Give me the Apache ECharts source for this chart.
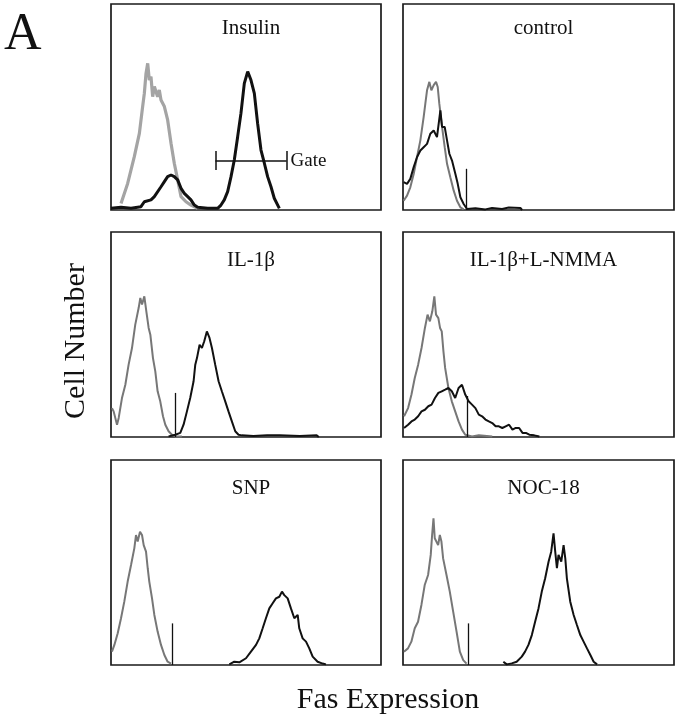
<!DOCTYPE html>
<html>
<head>
<meta charset="utf-8">
<script src="https://cdn.jsdelivr.net/npm/echarts@6/dist/echarts.min.js"></script>
<style>
html,body{margin:0;padding:0;background:#fff;}
#chart{width:680px;height:720px;}
</style>
</head>
<body>
<div id="chart"></div>
<script>
// ---- data (channel 0-256, cell count as % of panel height) ----
const panelTitles = ['Insulin', 'control', 'IL-1β', 'IL-1β+L-NMMA', 'SNP', 'NOC-18'];

const insulinGray = [[9.5,3.2],[15.8,12.9],[22.1,25.9],[26.9,37.2],[30.0,50.2],[31.6,56.6],[33.2,66.3],[34.8,71.2],[36.3,63.1],[37.9,64.7],[39.5,55.0],[41.1,59.9],[44.2,55.0],[45.8,58.3],[47.4,53.4],[50.6,50.2],[53.7,43.7],[56.9,32.4],[60.0,22.7],[63.2,14.6],[66.4,6.5],[71.1,4.0],[75.8,2.4],[82.2,0.8]];
const insulinBlack = [[0,0.8],[9.5,1.3],[19,0.8],[28.4,1.6],[31.6,4.0],[37.9,4.9],[41.1,6.5],[47.4,11.3],[50.6,13.8],[53.7,16.2],[56.9,17.0],[60.0,16.2],[63.2,14.6],[66.4,10.5],[69.5,8.1],[72.7,6.5],[75.8,4.9],[79.0,2.4],[82.2,1.3],[91.6,0.8],[101.1,0.8],[104.3,2.4],[107.4,4.9],[110.6,8.9],[113.8,16.2],[116.9,24.3],[120.1,35.6],[123.2,46.9],[126.4,61.5],[129.6,67.2],[132.7,63.1],[135.9,56.6],[139.0,42.1],[142.2,29.1],[145.4,22.7],[148.5,16.2],[151.7,11.3],[154.8,5.7],[159.6,0.8]];

const controlGray = [[0.6,4.5],[3.8,7.0],[6.9,11.0],[10.1,17.5],[13.2,25.6],[16.4,33.8],[19.5,45.1],[21.1,51.6],[22.7,58.1],[24.9,62.2],[26.8,58.1],[29.0,60.6],[31.2,62.2],[32.8,59.7],[34.3,51.6],[36.9,40.3],[39.4,30.5],[41.6,22.4],[44.7,15.9],[47.9,9.4],[51.0,4.5],[54.2,1.3],[57.3,0.3]];
const controlBlack = [[0.6,13.5],[3.8,12.7],[6.9,15.1],[10.1,20.8],[13.2,25.6],[16.4,28.9],[19.5,30.5],[22.7,32.1],[25.8,37.0],[29.0,38.6],[32.1,35.4],[35.3,48.4],[36.9,40.3],[39.4,40.3],[41.6,33.8],[43.8,27.3],[46.3,24.0],[49.5,17.5],[51.7,12.7],[54.2,6.2],[57.3,2.9],[60.5,0.5],[68.4,0.8],[77.8,0.3],[84.1,1.0],[93.6,0.5],[99.9,1.2],[110.9,1.0],[112.5,0]];

const il1bGray = [[0.9,14.1],[2.5,12.5],[5.7,6.0],[7.3,9.3],[10.4,19.0],[13.6,25.5],[16.7,35.3],[19.9,43.4],[23.0,54.8],[26.2,62.9],[27.8,67.8],[29.4,64.6],[31.6,68.6],[33.5,61.3],[35.7,53.2],[37.3,49.9],[39.8,38.5],[42.0,32.0],[44.2,22.3],[46.7,17.4],[49.3,10.1],[51.5,6.0],[54.6,2.8],[57.8,1.1],[60.9,0.3],[67.2,0.2]];
const il1bBlack = [[54.6,0.3],[60.9,1.1],[65.7,2.0],[68.8,6.0],[72.0,12.5],[75.1,19.0],[78.3,27.2],[79.9,35.3],[81.5,38.5],[84.0,45.0],[86.2,43.4],[88.4,46.7],[90.9,51.5],[93.4,48.3],[95.7,43.4],[98.8,35.3],[102.0,27.2],[105.1,22.3],[108.3,17.4],[111.4,12.5],[114.6,7.6],[117.8,2.8],[120.9,1.1],[124.1,0.8],[135,0.5],[148,0.8],[160,0.8],[179,0.5],[195,0.8],[197,0]];

const nmmaGray = [[1.0,10.1],[4.8,14.1],[8.0,20.7],[11.1,28.8],[14.3,35.3],[17.5,43.4],[20.7,53.2],[23.2,59.7],[25.4,56.4],[27.7,61.3],[29.6,68.6],[31.2,59.7],[33.4,58.0],[35.0,53.2],[36.6,51.5],[38.2,41.8],[39.8,33.7],[42.9,23.9],[46.1,17.4],[49.3,12.5],[52.5,7.6],[55.7,3.6],[58.8,1.1],[65.2,0.3],[71.6,0.8],[84.3,0.2]];
const nmmaBlack = [[1.0,4.4],[4.8,6.0],[8.0,7.6],[11.1,8.5],[14.3,10.1],[17.5,12.5],[20.7,13.3],[23.9,15.0],[27.0,15.8],[30.2,19.0],[33.4,21.5],[36.6,22.3],[39.8,23.1],[42.9,23.9],[46.1,22.3],[49.3,19.0],[52.5,23.9],[55.7,25.5],[58.8,20.7],[62.0,17.4],[65.2,15.8],[68.4,14.1],[71.6,10.9],[74.7,10.1],[77.9,8.5],[81.1,7.6],[84.3,6.8],[87.5,5.2],[90.6,5.2],[93.8,4.4],[97.0,5.2],[100.2,6.0],[103.4,3.6],[106.5,4.4],[109.7,4.4],[112.9,2.0],[116.1,2.0],[119.3,1.1],[124.0,0.8],[128.8,0.2]];

const snpGray = [[0.9,6.5],[3.2,9.8],[6.3,15.4],[9.5,22.8],[12.6,30.9],[15.8,40.7],[19.0,48.8],[22.1,56.9],[23.7,63.4],[25.3,60.2],[27.5,65.0],[29.4,63.4],[31.0,58.5],[33.2,55.3],[34.8,47.2],[36.3,40.7],[38.9,32.5],[41.1,24.4],[44.2,16.3],[47.4,9.8],[50.6,4.9],[53.7,1.6],[56.9,0.7]];
const snpBlack = [[112.2,0.3],[116.9,1.6],[121.7,1.3],[128.0,3.3],[132.7,6.5],[137.5,9.8],[140.6,13.0],[143.8,17.9],[146.9,22.8],[150.1,27.6],[153.3,30.1],[156.4,32.5],[159.6,33.3],[162.1,35.8],[164.3,34.1],[167.5,32.5],[170.6,27.6],[173.8,22.8],[177.0,24.4],[178.5,17.9],[181.7,13.0],[184.9,11.4],[188.0,8.1],[191.2,4.1],[195.9,1.6],[200.7,0.7],[203.8,0.3]];

const nocGray = [[0.9,6.5],[4.7,8.1],[7.9,11.4],[11.1,17.9],[14.2,21.1],[17.4,29.3],[20.5,39.0],[23.7,43.9],[26.2,53.7],[27.5,63.4],[28.8,71.5],[30.0,61.8],[33.2,58.5],[34.8,63.4],[36.3,60.2],[37.9,52.0],[41.1,43.9],[44.2,35.8],[47.4,26.0],[50.6,16.3],[53.7,6.5],[56.9,2.4],[60.0,0.7]];
const nocBlack = [[94.8,1.6],[98.0,0.3],[102.7,0.8],[107.4,1.6],[112.2,4.1],[115.3,6.5],[118.5,9.8],[121.7,14.6],[124.8,21.1],[128.0,27.6],[131.1,35.8],[134.3,42.3],[137.5,50.4],[140.0,55.3],[142.2,64.2],[143.8,55.3],[145.4,47.2],[146.9,53.7],[149.5,50.4],[151.7,58.5],[153.3,52.0],[154.8,42.3],[158.0,30.9],[161.2,24.4],[164.3,19.5],[167.5,14.6],[170.6,11.4],[173.8,8.1],[177.0,4.9],[180.1,1.6],[183.3,0.3]];

const markerChannel = [null, 60, 61, 61, 58.5, 61.5];
const markerHeight  = [null, 20, 21.5, 20, 20.3, 20.3];
const gateRange = [99, 166.5];
const gateLevel = 24;
const gateTick = 4.6;
const gateLabel = 'Gate';

const grayData  = [insulinGray, controlGray, il1bGray, nmmaGray, snpGray, nocGray];
const blackData = [insulinBlack, controlBlack, il1bBlack, nmmaBlack, snpBlack, nocBlack];

// ---- layout ----
const FONT = '"Liberation Serif", "Times New Roman", serif';
const colLeft = [111, 403];
const colWidth = [270, 271];
const rowTop = [4, 232, 460];
const rowHeight = [206, 205, 205];
const titleTop = [13, 245, 473];

const grids = [], xAxes = [], yAxes = [], series = [], titles = [];
for (let i = 0; i < 6; i++) {
  const c = i % 2, r = Math.floor(i / 2);
  grids.push({left: colLeft[c], top: rowTop[r], width: colWidth[c], height: rowHeight[r],
    show: true, borderColor: '#1a1a1a', borderWidth: 1.7, backgroundColor: '#fff', containLabel: false});
  xAxes.push({type: 'value', gridIndex: i, min: 0, max: 256, show: false, splitLine: {show: false}});
  yAxes.push({type: 'value', gridIndex: i, min: 0, max: 100, show: false, splitLine: {show: false}});
  titles.push({text: panelTitles[i], left: colLeft[c] + colWidth[c] / 2, top: titleTop[r], textAlign: 'center',
    textStyle: {fontFamily: FONT, fontSize: 21, fontWeight: 'normal', color: '#111'}});
  const thick = i === 0;
  const gray = {
    type: 'line', xAxisIndex: i, yAxisIndex: i, data: grayData[i], symbol: 'none', smooth: false,
    lineStyle: {color: thick ? '#a4a4a4' : '#777777', width: thick ? 3.2 : 2}, z: 2
  };
  if (markerChannel[i] !== null) {
    gray.markLine = {silent: true, symbol: 'none', animation: false, label: {show: false},
      lineStyle: {color: '#111', width: 1.3, type: 'solid'},
      data: [[{coord: [markerChannel[i], 0]}, {coord: [markerChannel[i], markerHeight[i]]}]]};
  }
  const black = {
    type: 'line', xAxisIndex: i, yAxisIndex: i, data: blackData[i], symbol: 'none', smooth: false,
    lineStyle: {color: '#111', width: thick ? 3 : 2}, z: 3
  };
  if (i === 0) {
    black.markLine = {silent: true, symbol: 'none', animation: false,
      lineStyle: {color: '#111', width: 1.5, type: 'solid'},
      label: {show: false},
      data: [
        [{coord: [gateRange[0], gateLevel]}, {coord: [gateRange[1], gateLevel],
          label: {show: true, position: 'end', formatter: gateLabel, distance: 4,
            fontFamily: FONT, fontSize: 19, color: '#111'}}],
        [{coord: [gateRange[0], gateLevel - gateTick]}, {coord: [gateRange[0], gateLevel + gateTick]}],
        [{coord: [gateRange[1], gateLevel - gateTick]}, {coord: [gateRange[1], gateLevel + gateTick]}]
      ]};
  }
  series.push(gray, black);
}

const chart = echarts.init(document.getElementById('chart'), null, {renderer: 'canvas'});
chart.setOption({
  animation: false,
  backgroundColor: '#fff',
  title: titles,
  grid: grids,
  xAxis: xAxes,
  yAxis: yAxes,
  series: series,
  graphic: [
    {type: 'text', left: 4, top: 9, style: {text: 'A', font: '52px ' + FONT, fill: '#111'}},
    {type: 'text', x: 76, y: 341, rotation: Math.PI / 2,
      style: {text: 'Cell Number', font: '30px ' + FONT, fill: '#111', textAlign: 'center', textVerticalAlign: 'middle'}},
    {type: 'text', x: 388, y: 700,
      style: {text: 'Fas Expression', font: '30px ' + FONT, fill: '#111', textAlign: 'center', textVerticalAlign: 'middle'}}
  ]
});
</script>
</body>
</html>
